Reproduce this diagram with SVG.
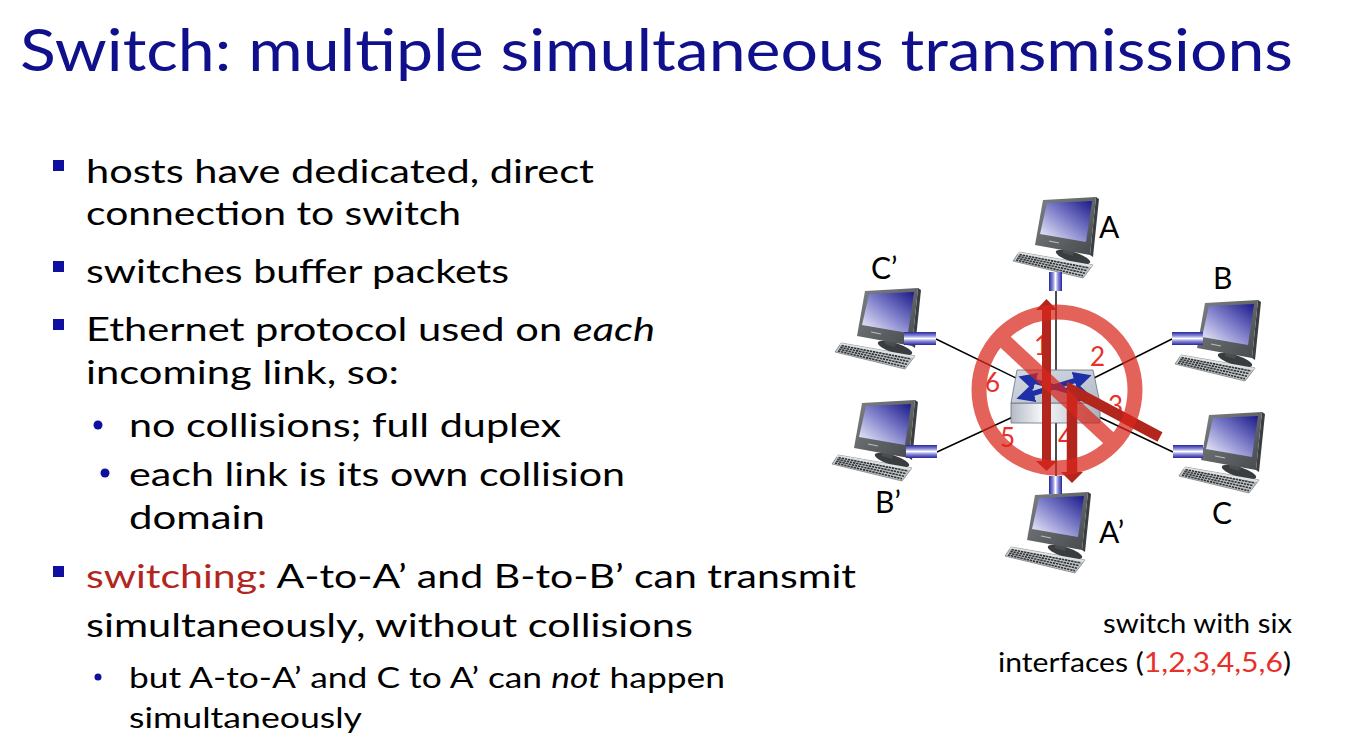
<svg xmlns="http://www.w3.org/2000/svg" width="1350" height="742" viewBox="0 0 1350 742">
<style>
.t{font-family:Lato,"Open Sans","Liberation Sans",sans-serif;fill:#000}
.title{font-family:Lato,"Open Sans","Liberation Sans",sans-serif;fill:#10108c;font-size:59px}
.b{font-size:33px}
.s{font-size:29px}
.cap{font-size:27px}
.lbl{font-family:Lato,"Open Sans","Liberation Sans",sans-serif;font-size:30px;fill:#000}
.port{font-family:Lato,"Open Sans","Liberation Sans",sans-serif;font-size:26px;fill:#e8302a}
.link{stroke:#000;stroke-width:1.4;fill:none}
.red{fill:#b3261e}
.sq{fill:#1010a0}
.kb{fill:none;stroke:#2f3335;stroke-width:1.6;stroke-dasharray:2.4 0.8}
</style>
<defs>
<linearGradient id="scr" x1="1" y1="0" x2="0" y2="1">
<stop offset="0" stop-color="#1a1a88"/>
<stop offset="0.45" stop-color="#7a7ac8"/>
<stop offset="1" stop-color="#f6f6ff"/>
</linearGradient>
<linearGradient id="bez" x1="0" y1="0" x2="1" y2="1">
<stop offset="0" stop-color="#7d8183"/>
<stop offset="1" stop-color="#464a4c"/>
</linearGradient>
<linearGradient id="cylH" x1="0" y1="0" x2="0" y2="1">
<stop offset="0" stop-color="#26269a"/>
<stop offset="0.3" stop-color="#8c8cdc"/>
<stop offset="0.5" stop-color="#ffffff"/>
<stop offset="0.7" stop-color="#8c8cdc"/>
<stop offset="1" stop-color="#26269a"/>
</linearGradient>
<linearGradient id="cylV" x1="0" y1="0" x2="1" y2="0">
<stop offset="0" stop-color="#26269a"/>
<stop offset="0.3" stop-color="#8c8cdc"/>
<stop offset="0.5" stop-color="#ffffff"/>
<stop offset="0.7" stop-color="#8c8cdc"/>
<stop offset="1" stop-color="#26269a"/>
</linearGradient>
<linearGradient id="swTop" x1="0" y1="0" x2="1" y2="1">
<stop offset="0" stop-color="#d4dae2"/>
<stop offset="1" stop-color="#b4bcc8"/>
</linearGradient>
<linearGradient id="swFront" x1="0" y1="0" x2="1" y2="0">
<stop offset="0" stop-color="#b4bac4"/>
<stop offset="0.35" stop-color="#f6f8fa"/>
<stop offset="1" stop-color="#aab1bb"/>
</linearGradient>
<marker id="bh" viewBox="0 0 10 10" refX="5" refY="5" markerWidth="3.6" markerHeight="3.6" orient="auto-start-reverse">
<path d="M0,0 L10,5 L0,10 z" fill="#1f2fa8"/>
</marker>
<symbol id="pc" overflow="visible">
<polygon points="6,57 80,70 70,83 0,66" fill="#c4c8ca" stroke="#5a5e60" stroke-width="0.6"/>
<ellipse cx="60" cy="62" rx="18" ry="5" transform="rotate(18 60 62)" fill="#3a3d3f"/>
<polygon points="50,50 62,53 60,61 50,58" fill="#4a4e50"/>
<polygon points="83,2 86,4 80,62 77,60" fill="#3a3e40"/>
<polygon points="30,5 83,2 77,60 22,50" fill="url(#bez)"/>
<polygon points="34,8 79,6 73,47 27,39" fill="url(#scr)"/>
<line x1="36" y1="46" x2="46" y2="48" stroke="#b8bcbe" stroke-width="1.2"/>
<polygon points="6,57 80,70 78,72 4,59" fill="#dfe2e3"/>
<line x1="6.5" y1="59.6" x2="76" y2="73" class="kb"/>
<line x1="5.3" y1="61.4" x2="74" y2="75.6" class="kb"/>
<line x1="4.1" y1="63.2" x2="72" y2="78.2" class="kb"/>
<line x1="2.9" y1="65" x2="70" y2="80.8" class="kb"/>
</symbol>
</defs>
<rect width="1350" height="742" fill="#ffffff"/>

<text class="title" x="20" y="71" textLength="1273" lengthAdjust="spacingAndGlyphs">Switch: multiple simultaneous transmissions</text>

<g id="bullets">
<rect class="sq" x="53" y="160" width="11" height="11"/>
<text class="t b" x="86" y="183" textLength="508" lengthAdjust="spacingAndGlyphs">hosts have dedicated, direct</text>
<text class="t b" x="86" y="225" textLength="375" lengthAdjust="spacingAndGlyphs">connection to switch</text>
<rect class="sq" x="53" y="261" width="11" height="11"/>
<text class="t b" x="86" y="283" textLength="423" lengthAdjust="spacingAndGlyphs">switches buffer packets</text>
<rect class="sq" x="53" y="319" width="11" height="11"/>
<text class="t b" x="86" y="341" textLength="569" lengthAdjust="spacingAndGlyphs">Ethernet protocol used on <tspan font-style="italic">each</tspan></text>
<text class="t b" x="86" y="384" textLength="313" lengthAdjust="spacingAndGlyphs">incoming link, so:</text>
<circle cx="98" cy="425" r="4.5" fill="#1010a0"/>
<text class="t b" x="129" y="437" textLength="432" lengthAdjust="spacingAndGlyphs">no collisions; full duplex</text>
<circle cx="105" cy="473" r="4.5" fill="#1010a0"/>
<text class="t b" x="129" y="486" textLength="496" lengthAdjust="spacingAndGlyphs">each link is its own collision</text>
<text class="t b" x="129" y="529" textLength="136" lengthAdjust="spacingAndGlyphs">domain</text>
<rect class="sq" x="53" y="566" width="11" height="11"/>
<text class="t b" x="86" y="588" textLength="770" lengthAdjust="spacingAndGlyphs"><tspan fill="#b3261e">switching:</tspan> A-to-A’ and B-to-B’ can transmit</text>
<text class="t b" x="86" y="637" textLength="607" lengthAdjust="spacingAndGlyphs">simultaneously, without collisions</text>
<circle cx="98" cy="677" r="3.5" fill="#1010a0"/>
<text class="t s" x="129" y="688" textLength="596" lengthAdjust="spacingAndGlyphs">but A-to-A’ and C to A’ can <tspan font-style="italic">not</tspan> happen</text>
<text class="t s" x="129" y="728" textLength="233" lengthAdjust="spacingAndGlyphs">simultaneously</text>
</g>

<g id="connectors">
<line class="link" x1="1056" y1="290" x2="1056" y2="380"/>
<line class="link" x1="1056" y1="415" x2="1056" y2="477"/>
<line class="link" x1="936" y1="339" x2="1020" y2="380"/>
<line class="link" x1="1172" y1="339" x2="1090" y2="380"/>
<line class="link" x1="937" y1="452" x2="1015" y2="416"/>
<line class="link" x1="1173" y1="452" x2="1097" y2="416"/>
</g>

<g id="host-A">
<use href="#pc" x="1013" y="195"/>
<rect x="1049" y="272" width="13" height="19" fill="url(#cylV)"/>
<text class="lbl" x="1099" y="238">A</text>
</g>
<g id="host-Cp">
<use href="#pc" x="835" y="286"/>
<rect x="904" y="332" width="32" height="13" fill="url(#cylH)"/>
<text class="lbl" x="871" y="279">C’</text>
</g>
<g id="host-B">
<use href="#pc" x="1175" y="298"/>
<rect x="1172" y="332" width="31" height="13" fill="url(#cylH)"/>
<text class="lbl" x="1213" y="289">B</text>
</g>
<g id="host-Bp">
<use href="#pc" x="832" y="398"/>
<rect x="906" y="445" width="31" height="13" fill="url(#cylH)"/>
<text class="lbl" x="875" y="513">B’</text>
</g>
<g id="host-C">
<use href="#pc" x="1179" y="410"/>
<rect x="1173" y="445" width="30" height="13" fill="url(#cylH)"/>
<text class="lbl" x="1212" y="524">C</text>
</g>
<g id="host-Ap">
<use href="#pc" x="1005" y="490"/>
<rect x="1049" y="476" width="13" height="18" fill="url(#cylV)"/>
<text class="lbl" x="1099" y="543">A’</text>
</g>

<g id="switch">
<polygon points="1011,403 1100,403 1100,423 1011,423" fill="url(#swFront)" stroke="#6a7080" stroke-width="0.8"/>
<polygon points="1017,370 1093,370 1100,403 1011,403" fill="url(#swTop)" stroke="#6a7080" stroke-width="0.8"/>
<line x1="1027" y1="379" x2="1085" y2="396" stroke="#1f2fa8" stroke-width="5" marker-start="url(#bh)" marker-end="url(#bh)"/>
<line x1="1025" y1="396" x2="1083" y2="378" stroke="#1f2fa8" stroke-width="5" marker-start="url(#bh)" marker-end="url(#bh)"/>
</g>

<g id="ports">
<text class="port" x="1034" y="355">1</text>
<text class="port" x="1090" y="366">2</text>
<text class="port" x="1108" y="415">3</text>
<text class="port" x="1058" y="447">4</text>
<text class="port" x="1000" y="447">5</text>
<text class="port" x="985" y="392">6</text>
</g>

<g id="paths">
<rect class="red" x="1042" y="309" width="9" height="153"/>
<polygon class="red" points="1036,310 1057,310 1046.5,299"/>
<polygon class="red" points="1036,461 1057,461 1046.5,471"/>
<polyline points="1160,437 1072,390 1072,473" fill="none" stroke="#b3261e" stroke-width="10.5" stroke-linejoin="miter"/>
<polygon class="red" points="1061,472 1083,472 1072,483"/>
</g>

<g id="no-sign" opacity="0.72">
<circle cx="1057" cy="390" r="78" fill="none" stroke="#d9261c" stroke-width="15"/>
<line x1="1001" y1="338" x2="1113" y2="442" stroke="#d9261c" stroke-width="15"/>
</g>

<g id="caption">
<text class="t cap" x="1103" y="633" textLength="189" lengthAdjust="spacingAndGlyphs">switch with six</text>
<text class="t cap" x="998" y="672" textLength="293" lengthAdjust="spacingAndGlyphs">interfaces (<tspan fill="#e8302a">1,2,3,4,5,6</tspan>)</text>
</g>
</svg>
